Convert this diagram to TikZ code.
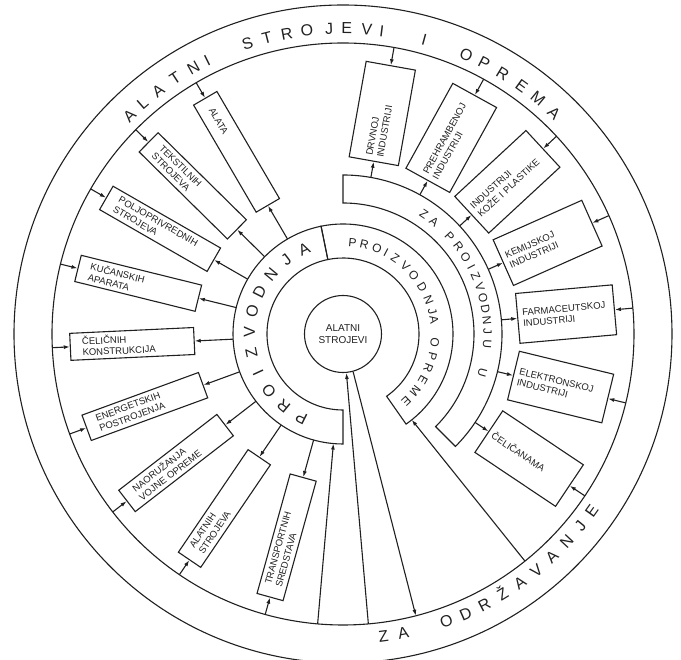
\documentclass[tikz,border=0pt]{standalone}
\usepackage{fontspec}
\setmainfont{Liberation Sans}
\usetikzlibrary{arrows.meta}
\definecolor{cink}{HTML}{202020}
\tikzset{
  every picture/.style={line width=1.1pt, color=cink},
  lbox/.style={draw, rotate=#1+180, text width=100pt, inner xsep=12pt, inner ysep=2pt, minimum height=27pt, align=left, font=\fontsize{9.5}{11}\selectfont},
  rbox/.style={draw, rotate=#1, text width=87pt, inner xsep=5pt, minimum height=50pt, align=left, font=\fontsize{9.5}{11}\selectfont},
  arrow/.style={-{Latex[length=6pt, width=4pt]}},
  bigletter/.style={anchor=base, inner sep=0pt, font=\fontsize{16}{16}\selectfont},
  smallletter/.style={anchor=base, inner sep=0pt, font=\fontsize{12}{12}\selectfont},
}
\begin{document}
\begin{tikzpicture}
  \useasboundingbox (-343pt,-326pt) rectangle (338pt,334pt);
  \draw (0,0) circle[radius=329pt] (0,0) circle[radius=291pt];
  \draw (101.5:76pt) arc[start angle=101.5, end angle=270, radius=76pt] -- (270:110pt) arc[start angle=270, end angle=101.5, radius=110pt] -- cycle;
  \draw (-55:76pt) arc[start angle=-55, end angle=101.5, radius=76pt] -- (101.5:110pt) arc[start angle=101.5, end angle=-55, radius=110pt] -- cycle;
  \draw (-45:131pt) arc[start angle=-45, end angle=90, radius=131pt] -- (90:159pt) arc[start angle=90, end angle=-45, radius=159pt] -- cycle;
  \node[draw, circle, minimum size=77pt, inner sep=0pt, align=center, font=\fontsize{10}{12}\selectfont] (core) at (0,0) {ALATNI\\STROJEVI};

  \foreach \a/\t [count=\i] in {120.3/{ALATA}, 135.4/{TEKSTILNIH\\STROJEVA}, 150.1/{POLJOPRIVREDNIH\\STROJEVA}, 166.1/{KUČANSKIH\\APARATA}, 182.7/{ČELIČNIH\\KONSTRUKCIJA}, 200.1/{ENERGETSKIH\\POSTROJENJA}, 217.7/{NAORUŽANJA\\VOJNE OPREME}, 235.8/{ALATNIH\\STROJEVA}, 254.5/{TRANSPORTNIH\\SREDSTAVA}} {
    \node[lbox=\a] (l\i) at (\a:211pt) {\t};
    \coordinate (lin\i) at (\a:110pt);
    \coordinate (lout\i) at (\a:291pt);
    \draw[arrow] (lin\i) -- (l\i.east);
    \draw[arrow] (lout\i) -- (l\i.west);
  }
  \foreach \a/\t [count=\i] in {79.9/{DRVNOJ\\INDUSTRIJI}, 61.1/{PREHRAMBENOJ\\INDUSTRIJI}, 42.8/{INDUSTRIJI\\KOŽE I PLASTIKE}, 24/{KEMIJSKOJ\\INDUSTRIJI}, 5.1/{FARMACEUTSKOJ\\INDUSTRIJI}, -13.7/{ELEKTRONSKOJ\\INDUSTRIJI}, -33.8/{ČELIČANAMA}} {
    \node[rbox=\a] (r\i) at (\a:224pt) {\t};
    \coordinate (rin\i) at (\a:159pt);
    \coordinate (rout\i) at (\a:291pt);
    \draw[arrow] (rin\i) -- (r\i.west);
    \draw[arrow] (rout\i) -- (r\i.east);
  }

  \coordinate (m1) at (-95:291pt);
  \coordinate (m1e) at (-95:110pt);
  \coordinate (m2) at (-85:291pt);
  \coordinate (m3) at (-75.5:291pt);
  \coordinate (m4) at (-51.3:291pt);
  \coordinate (m4e) at (-51.3:110pt);
  \draw[arrow] (m1) -- (m1e);
  \draw[arrow] (m2) -- (core.-85);
  \draw[arrow] (core.-75.5) -- (m3);
  \draw[arrow] (m4) -- (m4e);

  \foreach \c/\a [count=\i] in {A/134.3, L/131, A/127.2, T/123.3, N/119.3, I/116.4, S/108.2, T/104.4, R/100.6, O/96.8, J/92.6, E/89.3, V/85.5, I/82.7, I/74.6, O/66.2, P/62.5, R/58.5, E/54.2, M/50.3, A/46.3}
    \node[bigletter, rotate=\a-90] (ta\i) at (\a:300pt) {\c};
  \foreach \c/\a [count=\i] in {Z/-82.4, A/-78.6, O/-70.2, D/-66.3, R/-62.4, Ž/-58.5, A/-54.6, V/-50.7, A/-46.8, N/-42.9, J/-39, E/-35.5}
    \node[bigletter, rotate=\a+90] (tb\i) at (\a:311pt) {\c};
  \foreach \c/\a [count=\i] in {P/243.5, R/230.6, O/217.7, I/204.8, Z/191.9, V/179, O/166.1, D/153.2, N/140.3, J/127.4, A/114.5}
    \node[bigletter, rotate=\a-90] (tp\i) at (\a:88pt) {\c};
  \foreach \c/\a [count=\i] in {P/84, R/76.6, O/68.4, I/62.2, Z/55.4, V/47.4, O/39.7, D/30.7, N/21.8, J/14.2, A/8.7, O/-5.6, P/-14, R/-22, E/-29.7, M/-38.2, E/-46.7}
    \node[smallletter, rotate=\a-90] (to\i) at (\a:88pt) {\c};
  \foreach \c/\a [count=\i] in {Z/56, A/51, P/42.5, R/37, O/32, I/27.5, Z/23.5, V/19, O/14.5, D/10, N/5.5, J/1, U/-4, U/-15.5}
    \node[smallletter, rotate=\a-90] (tz\i) at (\a:140.5pt) {\c};
\end{tikzpicture}
\end{document}
